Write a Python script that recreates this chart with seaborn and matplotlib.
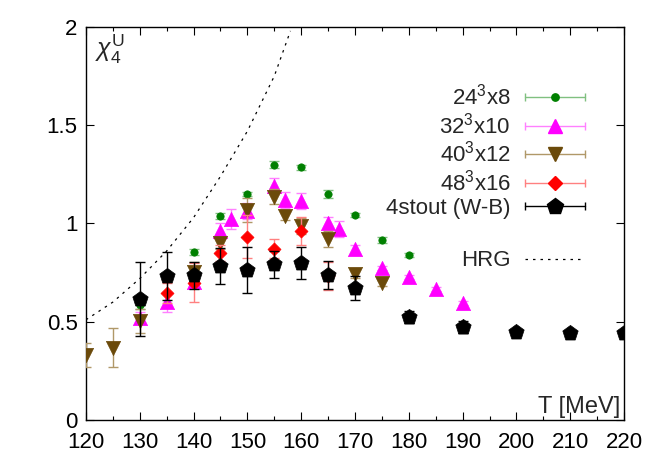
import numpy as np
import pandas as pd
import matplotlib
matplotlib.use("Agg")
import matplotlib.pyplot as plt
from matplotlib.lines import Line2D
from matplotlib.legend_handler import HandlerLine2D
from matplotlib.ticker import MultipleLocator
import seaborn as sns

sns.set_style("ticks")
plt.rcParams['font.family'] = ['Liberation Sans', 'DejaVu Sans']
plt.rcParams['mathtext.fontset'] = 'custom'
plt.rcParams['mathtext.rm'] = 'Liberation Sans'
plt.rcParams['mathtext.it'] = 'Liberation Sans:italic'

# data
T_24 = [130, 140, 145, 150, 155, 160, 165, 170, 175, 180]
chi_24 = [0.585, 0.855, 1.04, 1.15, 1.30, 1.285, 1.15, 1.042, 0.914, 0.838]
err_24 = [0.02, 0.015, 0.015, 0.01, 0.02, 0.015, 0.02, 0.01, 0.015, 0.01]

T_32 = [130, 135, 140, 145, 147, 150, 155, 157, 160, 165, 167, 170, 175, 180, 185, 190]
chi_32 = [0.52, 0.60, 0.70, 0.963, 1.023, 1.064, 1.19, 1.12, 1.116, 1.004, 0.972,
          0.869, 0.775, 0.726, 0.667, 0.597]
err_32 = [0.03, 0.05, 0.03, 0.04, 0.05, 0.04, 0.04, 0.04, 0.04, 0.03, 0.04,
          0.02, 0.01, 0.01, 0.01, 0.01]

T_40 = [120, 125, 130, 140, 145, 150, 155, 157, 160, 165, 170, 175]
chi_40 = [0.33, 0.368, 0.504, 0.755, 0.899, 1.069, 1.137, 1.038, 0.987, 0.92, 0.741, 0.699]
err_40 = [0.06, 0.10, 0.06, 0.05, 0.03, 0.06, 0.04, 0.02, 0.04, 0.04, 0.02, 0.015]

T_48 = [135, 140, 145, 150, 155, 160, 165]
chi_48 = [0.645, 0.699, 0.851, 0.933, 0.872, 0.963, 0.733]
err_48 = [0.05, 0.10, 0.04, 0.11, 0.05, 0.07, 0.07]

T_ws = [130, 135, 140, 145, 150, 155, 160, 165, 170, 180, 190, 200, 210, 220]
chi_ws = [0.616, 0.733, 0.736, 0.784, 0.763, 0.792, 0.80, 0.738, 0.673, 0.526,
          0.472, 0.446, 0.445, 0.441]
err_ws = [0.19, 0.12, 0.07, 0.09, 0.115, 0.07, 0.08, 0.07, 0.06, 0.03, 0.03,
          0.005, 0.005, 0.005]

T_hrg = [120, 125, 130, 135, 140, 145, 150, 155, 158]
chi_hrg = [0.51, 0.60, 0.72, 0.86, 1.03, 1.24, 1.47, 1.75, 1.98]

series = [
    ("24$^{\\mathrm{3}}$x8", T_24, chi_24, err_24, '#008000', '#80c080', 'o', 28),
    ("32$^{\\mathrm{3}}$x10", T_32, chi_32, err_32, '#ff00ff', '#ff80ff', '^', 105),
    ("40$^{\\mathrm{3}}$x12", T_40, chi_40, err_40, '#6b4a0a', '#b09868', 'v', 105),
    ("48$^{\\mathrm{3}}$x16", T_48, chi_48, err_48, '#ff0000', '#ff8080', 'D', 44),
    ("4stout (W-B)", T_ws, chi_ws, err_ws, '#000000', '#000000', 'p', 135),
]

fig = plt.figure(figsize=(6.64, 4.65), dpi=100)
ax = fig.add_axes([0.1295, 0.0968, 0.8103, 0.8452])

handles, labels, hmap = [], [], {}
for i, (lab, T, chi, err, c, ec, m, s) in enumerate(series):
    df = pd.DataFrame({'T': T, 'chi': chi, 'err': err})
    ax.errorbar(df['T'], df['chi'], yerr=df['err'], fmt='none', ecolor=ec,
                elinewidth=1.0, capsize=3.5, capthick=1.0, zorder=2 + i)
    sns.scatterplot(data=df, x='T', y='chi', marker=m, s=s, color=c,
                    edgecolor=c, linewidth=0.5, ax=ax, zorder=2.5 + i, legend=False)
    bar = Line2D([], [], color=ec, lw=1.0, marker='|', markersize=6, markeredgewidth=1.0)
    mk = Line2D([], [], color=c, marker=m, markersize=np.sqrt(s), linestyle='none')
    hmap[bar] = HandlerLine2D(numpoints=2)
    handles.append((bar, mk))
    labels.append(lab)

hrg = pd.DataFrame({'T': T_hrg, 'chi': chi_hrg})
sns.lineplot(data=hrg, x='T', y='chi', color='black', lw=0.9,
             linestyle=(0, (2, 4)), ax=ax, zorder=1)

# empty spacer row (same height as the other rows), then HRG
handles.append(Line2D([], [], linestyle='none'))
labels.append("x$^{\\mathrm{3}}$")
hrg_h = Line2D([], [], color='black', lw=0.9, linestyle=(0, (2, 4)))
hmap[hrg_h] = HandlerLine2D(numpoints=2)
handles.append(hrg_h)
labels.append("HRG")

leg = ax.legend(handles, labels, handler_map=hmap, loc='upper right',
                bbox_to_anchor=(0.939, 0.855), frameon=False, markerfirst=False,
                fontsize=16, handlelength=3.3, handletextpad=0.32, labelspacing=0.12,
                borderpad=0, borderaxespad=0)
leg.get_texts()[5].set_alpha(0)

ax.set_xlim(120, 220)
ax.set_ylim(0, 2)
ax.xaxis.set_major_locator(MultipleLocator(10))
ax.xaxis.set_minor_locator(MultipleLocator(5))
ax.set_yticks([0, 0.5, 1, 1.5, 2])
ax.set_yticklabels(['0', '0.5', '1', '1.5', '2'])
ax.tick_params(which='both', direction='in', top=True, right=True,
               labelsize=16, width=0.8, colors='black', pad=6)
ax.tick_params(axis='x', which='both', pad=9)
ax.tick_params(which='major', length=6)
ax.tick_params(which='minor', length=3)
for sp in ax.spines.values():
    sp.set_linewidth(1.0)
    sp.set_color('black')
ax.set_xlabel('')
ax.set_ylabel('')

ax.text(0.017, 0.985, "$\\chi_{\\mathrm{4}}^{\\mathrm{U}}$", transform=ax.transAxes,
        ha='left', va='top', fontsize=18)
ax.text(0.993, 0.004, "T [MeV]", transform=ax.transAxes, ha='right', va='bottom',
        fontsize=17)

fig.savefig('out.png', dpi=100)
